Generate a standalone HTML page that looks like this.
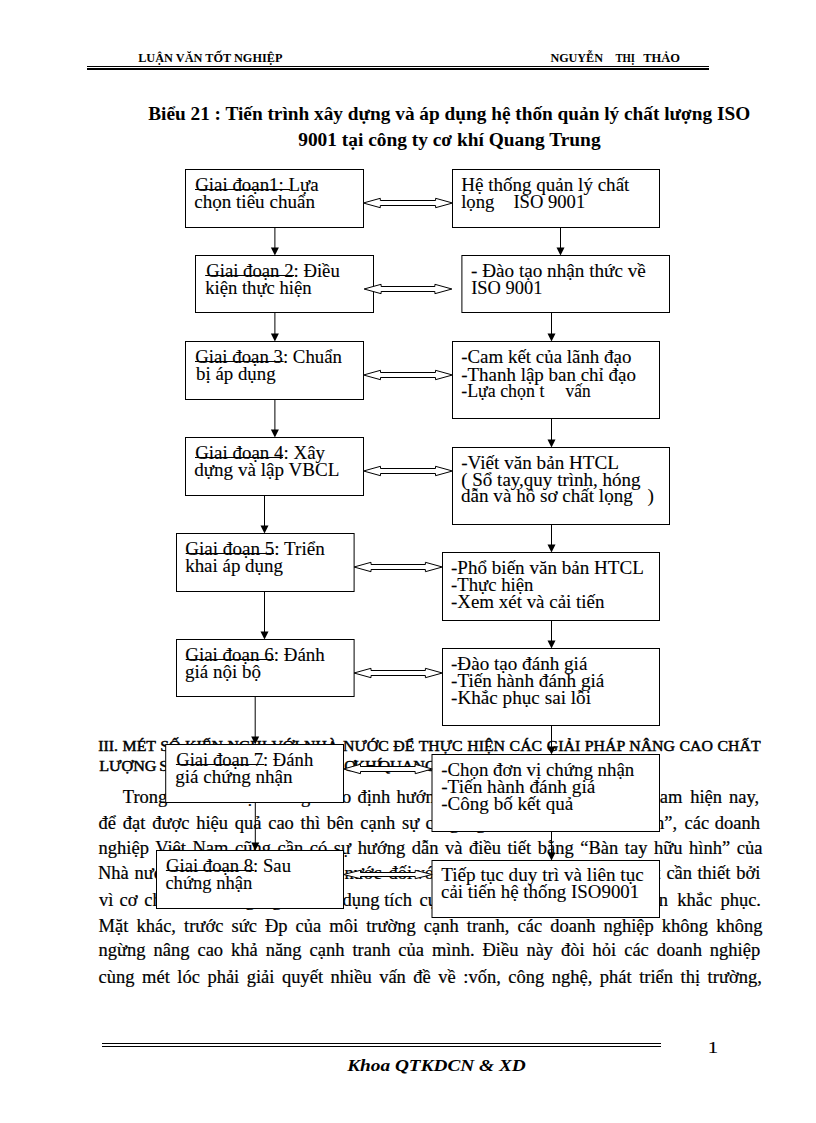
<!DOCTYPE html><html><head><meta charset="utf-8"><title>Biểu 21</title><style>html,body{margin:0;padding:0;background:#fff;width:816px;height:1123px;overflow:hidden}svg{display:block}text{font-family:"Liberation Serif",serif;fill:#000}</style></head><body>
<svg width="816" height="1123" viewBox="0 0 816 1123">
<rect x="0" y="0" width="816" height="1123" fill="#fff"/>
<rect x="87" y="66" width="622" height="1" fill="#000"/>
<rect x="87" y="68" width="622" height="2" fill="#000"/>
<text x="138.20" y="62.10" font-size="13" font-weight="bold" textLength="144.20" lengthAdjust="spacingAndGlyphs">LUẬN VĂN TỐT NGHIỆP</text>
<text x="550.40" y="62.10" font-size="13" font-weight="bold" textLength="52.60" lengthAdjust="spacingAndGlyphs">NGUYỄN</text>
<text x="615.40" y="62.10" font-size="13" font-weight="bold" textLength="19.60" lengthAdjust="spacingAndGlyphs">THỊ</text>
<text x="643.20" y="62.10" font-size="13" font-weight="bold" textLength="36.80" lengthAdjust="spacingAndGlyphs">THẢO</text>
<text x="148.20" y="120.30" font-size="18.67" font-weight="bold" textLength="602.00" lengthAdjust="spacingAndGlyphs">Biểu 21 : Tiến trình xây dựng và áp dụng hệ thốn quản lý chất lượng ISO</text>
<text x="298.20" y="146.20" font-size="18.67" font-weight="bold" textLength="302.40" lengthAdjust="spacingAndGlyphs">9001 tại công ty cơ khí Quang Trung</text>
<text transform="translate(98.20,751.30) scale(1.0800,1)" x="0" y="0" font-size="14.67" stroke="#000" stroke-width="0.45" word-spacing="0.597">III. MÉT SỐ KIẾN NGHỊ VỚI NHÀ NƯỚC ĐỂ THỰC HIỆN CÁC GIẢI PHÁP NÂNG CAO CHẤT</text>
<text transform="translate(99.20,771.20) scale(1.1000,1)" x="0" y="0" font-size="14.67" stroke="#000" stroke-width="0.45">LƯỢNG</text>
<text transform="translate(159.20,771.20) scale(1.1000,1)" x="0" y="0" font-size="14.67" stroke="#000" stroke-width="0.45">SẢN</text>
<text transform="translate(189.40,771.20) scale(1.1000,1)" x="0" y="0" font-size="14.67" stroke="#000" stroke-width="0.45">PHẨM</text>
<text transform="translate(240.40,771.20) scale(1.1000,1)" x="0" y="0" font-size="14.67" stroke="#000" stroke-width="0.45">TẠI</text>
<text transform="translate(271.40,771.20) scale(1.1000,1)" x="0" y="0" font-size="14.67" stroke="#000" stroke-width="0.45">CÔNG</text>
<text transform="translate(310.40,771.20) scale(1.1000,1)" x="0" y="0" font-size="14.67" stroke="#000" stroke-width="0.45">TY</text>
<text transform="translate(333.40,771.20) scale(1.1000,1)" x="0" y="0" font-size="14.67" stroke="#000" stroke-width="0.45">CƠ</text>
<text transform="translate(353.40,771.20) scale(1.1000,1)" x="0" y="0" font-size="14.67" stroke="#000" stroke-width="0.45">KHÍ</text>
<text transform="translate(378.40,771.20) scale(1.1000,1)" x="0" y="0" font-size="14.67" stroke="#000" stroke-width="0.45">QUANG</text>
<text transform="translate(440.40,771.20) scale(1.1000,1)" x="0" y="0" font-size="14.67" stroke="#000" stroke-width="0.45">TRUNG</text>
<text transform="translate(122.80,803.20) scale(1.0400,1)" x="0" y="0" font-size="17.8" stroke="#000" stroke-width="0.2">Trong</text>
<text transform="translate(175.40,803.20) scale(1.0400,1)" x="0" y="0" font-size="17.8" stroke="#000" stroke-width="0.2">nền</text>
<text transform="translate(199.40,803.20) scale(1.0400,1)" x="0" y="0" font-size="17.8" stroke="#000" stroke-width="0.2">kinh</text>
<text transform="translate(246.00,803.20) scale(1.0400,1)" x="0" y="0" font-size="17.8" stroke="#000" stroke-width="0.2">ạ</text>
<text transform="translate(301.00,803.20) scale(1.0400,1)" x="0" y="0" font-size="17.8" stroke="#000" stroke-width="0.2">g</text>
<text transform="translate(319.40,803.20) scale(1.0400,1)" x="0" y="0" font-size="17.8" stroke="#000" stroke-width="0.2">theo</text>
<text transform="translate(357.40,803.20) scale(1.0400,1)" x="0" y="0" font-size="17.8" stroke="#000" stroke-width="0.2">định</text>
<text transform="translate(396.40,803.20) scale(1.0400,1)" x="0" y="0" font-size="17.8" stroke="#000" stroke-width="0.2">hướng</text>
<text transform="translate(444.40,803.20) scale(1.0400,1)" x="0" y="0" font-size="17.8" stroke="#000" stroke-width="0.2">xã</text>
<text transform="translate(469.40,803.20) scale(1.0400,1)" x="0" y="0" font-size="17.8" stroke="#000" stroke-width="0.2">hội</text>
<text transform="translate(499.40,803.20) scale(1.0400,1)" x="0" y="0" font-size="17.8" stroke="#000" stroke-width="0.2">chủ</text>
<text transform="translate(529.40,803.20) scale(1.0400,1)" x="0" y="0" font-size="17.8" stroke="#000" stroke-width="0.2">nghĩa</text>
<text transform="translate(579.40,803.20) scale(1.0400,1)" x="0" y="0" font-size="17.8" stroke="#000" stroke-width="0.2">ở</text>
<text transform="translate(599.40,803.20) scale(1.0400,1)" x="0" y="0" font-size="17.8" stroke="#000" stroke-width="0.2">Việt</text>
<text transform="translate(646.40,803.20) scale(1.0400,1)" x="0" y="0" font-size="17.8" stroke="#000" stroke-width="0.2">Nam</text>
<text transform="translate(690.20,803.20) scale(1.0400,1)" x="0" y="0" font-size="17.8" stroke="#000" stroke-width="0.2">hiện</text>
<text transform="translate(729.00,803.20) scale(1.0400,1)" x="0" y="0" font-size="17.8" stroke="#000" stroke-width="0.2">nay,</text>
<text transform="translate(98.60,828.60) scale(1.0400,1)" x="0" y="0" font-size="17.8" stroke="#000" stroke-width="0.2" word-spacing="2.044">để đạt được hiệu quả cao thì bên cạnh sự</text>
<text transform="translate(425.60,828.60) scale(1.0400,1)" x="0" y="0" font-size="17.8" stroke="#000" stroke-width="0.2">cố</text>
<text transform="translate(449.40,828.60) scale(1.0400,1)" x="0" y="0" font-size="17.8" stroke="#000" stroke-width="0.2">gắng</text>
<text transform="translate(499.40,828.60) scale(1.0400,1)" x="0" y="0" font-size="17.8" stroke="#000" stroke-width="0.2">của</text>
<text transform="translate(539.40,828.60) scale(1.0400,1)" x="0" y="0" font-size="17.8" stroke="#000" stroke-width="0.2">bản</text>
<text transform="translate(579.40,828.60) scale(1.0400,1)" x="0" y="0" font-size="17.8" stroke="#000" stroke-width="0.2">thân</text>
<text transform="translate(609.40,828.60) scale(1.0400,1)" x="0" y="0" font-size="17.8" stroke="#000" stroke-width="0.2">“Bàn</text>
<text transform="translate(631.40,828.60) scale(1.0400,1)" x="0" y="0" font-size="17.8" stroke="#000" stroke-width="0.2">hình”,</text>
<text transform="translate(684.60,828.60) scale(1.0400,1)" x="0" y="0" font-size="17.8" stroke="#000" stroke-width="0.2">các</text>
<text transform="translate(714.80,828.60) scale(1.0400,1)" x="0" y="0" font-size="17.8" stroke="#000" stroke-width="0.2">doanh</text>
<text transform="translate(98.60,853.60) scale(1.0400,1)" x="0" y="0" font-size="17.8" stroke="#000" stroke-width="0.2" word-spacing="1.883">nghiệp Việt Nam cũng cần có sự hướng dẫn và điều tiết bằng “Bàn tay hữu hình” của</text>
<text transform="translate(98.00,879.30) scale(1.0400,1)" x="0" y="0" font-size="17.8" stroke="#000" stroke-width="0.2">Nhà</text>
<text transform="translate(134.60,879.30) scale(1.0400,1)" x="0" y="0" font-size="17.8" stroke="#000" stroke-width="0.2">nước.</text>
<text transform="translate(178.40,879.30) scale(1.0400,1)" x="0" y="0" font-size="17.8" stroke="#000" stroke-width="0.2">Sự</text>
<text transform="translate(209.40,879.30) scale(1.0400,1)" x="0" y="0" font-size="17.8" stroke="#000" stroke-width="0.2">can</text>
<text transform="translate(239.40,879.30) scale(1.0400,1)" x="0" y="0" font-size="17.8" stroke="#000" stroke-width="0.2">thiệp</text>
<text transform="translate(289.40,879.30) scale(1.0400,1)" x="0" y="0" font-size="17.8" stroke="#000" stroke-width="0.2">của</text>
<text transform="translate(344.40,879.30) scale(1.0400,1)" x="0" y="0" font-size="17.8" stroke="#000" stroke-width="0.2">nước</text>
<text transform="translate(388.40,879.30) scale(1.0400,1)" x="0" y="0" font-size="17.8" stroke="#000" stroke-width="0.2">đối</text>
<text transform="translate(415.40,879.30) scale(1.0400,1)" x="0" y="0" font-size="17.8" stroke="#000" stroke-width="0.2">với</text>
<text transform="translate(449.40,879.30) scale(1.0400,1)" x="0" y="0" font-size="17.8" stroke="#000" stroke-width="0.2">các</text>
<text transform="translate(489.40,879.30) scale(1.0400,1)" x="0" y="0" font-size="17.8" stroke="#000" stroke-width="0.2">doanh</text>
<text transform="translate(549.40,879.30) scale(1.0400,1)" x="0" y="0" font-size="17.8" stroke="#000" stroke-width="0.2">nghiệp</text>
<text transform="translate(609.40,879.30) scale(1.0400,1)" x="0" y="0" font-size="17.8" stroke="#000" stroke-width="0.2">là</text>
<text transform="translate(640.80,879.30) scale(1.0400,1)" x="0" y="0" font-size="17.8" stroke="#000" stroke-width="0.2">rất</text>
<text transform="translate(666.40,879.30) scale(1.0400,1)" x="0" y="0" font-size="17.8" stroke="#000" stroke-width="0.2">cần</text>
<text transform="translate(697.40,879.30) scale(1.0400,1)" x="0" y="0" font-size="17.8" stroke="#000" stroke-width="0.2">thiết</text>
<text transform="translate(736.20,879.30) scale(1.0400,1)" x="0" y="0" font-size="17.8" stroke="#000" stroke-width="0.2">bởi</text>
<text transform="translate(99.00,905.80) scale(1.0400,1)" x="0" y="0" font-size="17.8" stroke="#000" stroke-width="0.2">vì</text>
<text transform="translate(119.60,905.80) scale(1.0400,1)" x="0" y="0" font-size="17.8" stroke="#000" stroke-width="0.2">cơ</text>
<text transform="translate(144.20,905.80) scale(1.0400,1)" x="0" y="0" font-size="17.8" stroke="#000" stroke-width="0.2">chế</text>
<text transform="translate(169.40,905.80) scale(1.0400,1)" x="0" y="0" font-size="17.8" stroke="#000" stroke-width="0.2">thị</text>
<text transform="translate(204.80,905.80) scale(1.0400,1)" x="0" y="0" font-size="17.8" stroke="#000" stroke-width="0.2">trường</text>
<text transform="translate(272.00,905.80) scale(1.0400,1)" x="0" y="0" font-size="17.8" stroke="#000" stroke-width="0.2">g</text>
<text transform="translate(342.60,905.80) scale(1.0400,1)" x="0" y="0" font-size="17.8" stroke="#000" stroke-width="0.2">dụng</text>
<text transform="translate(384.20,905.80) scale(1.0400,1)" x="0" y="0" font-size="17.8" stroke="#000" stroke-width="0.2">tích</text>
<text transform="translate(419.60,905.80) scale(1.0400,1)" x="0" y="0" font-size="17.8" stroke="#000" stroke-width="0.2">cực</text>
<text transform="translate(459.40,905.80) scale(1.0400,1)" x="0" y="0" font-size="17.8" stroke="#000" stroke-width="0.2">còn</text>
<text transform="translate(499.40,905.80) scale(1.0400,1)" x="0" y="0" font-size="17.8" stroke="#000" stroke-width="0.2">có</text>
<text transform="translate(539.40,905.80) scale(1.0400,1)" x="0" y="0" font-size="17.8" stroke="#000" stroke-width="0.2">những</text>
<text transform="translate(589.40,905.80) scale(1.0400,1)" x="0" y="0" font-size="17.8" stroke="#000" stroke-width="0.2">khuyết</text>
<text transform="translate(619.40,905.80) scale(1.0400,1)" x="0" y="0" font-size="17.8" stroke="#000" stroke-width="0.2">tật</text>
<text transform="translate(642.40,905.80) scale(1.0400,1)" x="0" y="0" font-size="17.8" stroke="#000" stroke-width="0.2">cần</text>
<text transform="translate(677.20,905.80) scale(1.0400,1)" x="0" y="0" font-size="17.8" stroke="#000" stroke-width="0.2">khắc</text>
<text transform="translate(720.40,905.80) scale(1.0400,1)" x="0" y="0" font-size="17.8" stroke="#000" stroke-width="0.2">phục.</text>
<text transform="translate(98.60,931.50) scale(1.0400,1)" x="0" y="0" font-size="17.8" stroke="#000" stroke-width="0.2" word-spacing="3.314">Mặt khác, trước sức Đp của môi trường cạnh tranh, các doanh nghiệp không không</text>
<text transform="translate(98.60,956.40) scale(1.0400,1)" x="0" y="0" font-size="17.8" stroke="#000" stroke-width="0.2" word-spacing="3.187">ngừng nâng cao khả năng cạnh tranh của mình. Điều này đòi hỏi các doanh nghiệp</text>
<text transform="translate(98.60,982.90) scale(1.0400,1)" x="0" y="0" font-size="17.8" stroke="#000" stroke-width="0.2" word-spacing="2.773">cùng mét lóc phải giải quyết nhiều vấn đề về :vốn, công nghệ, phát triển thị trường,</text>
<text x="707.40" y="1053.20" font-size="17.33" stroke="#000" stroke-width="0.05" textLength="10.80" lengthAdjust="spacingAndGlyphs">1</text>
<text x="347.20" y="1071.00" font-size="17.33" font-weight="bold" font-style="italic" textLength="178.60" lengthAdjust="spacingAndGlyphs">Khoa QTKDCN &amp; XD</text>
<line x1="274.9" y1="227.5" x2="274.9" y2="248.5" stroke="#000" stroke-width="1"/>
<path d="M270.9,247.5 L278.9,247.5 L274.9,255.5 Z" fill="#000"/>
<line x1="274.9" y1="312.5" x2="274.9" y2="334.5" stroke="#000" stroke-width="1"/>
<path d="M270.9,333.5 L278.9,333.5 L274.9,341.5 Z" fill="#000"/>
<line x1="274.9" y1="399.5" x2="274.9" y2="430.5" stroke="#000" stroke-width="1"/>
<path d="M270.9,429.5 L278.9,429.5 L274.9,437.5 Z" fill="#000"/>
<line x1="264.5" y1="495.5" x2="264.5" y2="526.5" stroke="#000" stroke-width="1"/>
<path d="M260.5,525.5 L268.5,525.5 L264.5,533.5 Z" fill="#000"/>
<line x1="264.5" y1="591.5" x2="264.5" y2="632.5" stroke="#000" stroke-width="1"/>
<path d="M260.5,631.5 L268.5,631.5 L264.5,639.5 Z" fill="#000"/>
<line x1="255.2" y1="696.5" x2="255.2" y2="737.5" stroke="#000" stroke-width="1"/>
<path d="M251.2,736.5 L259.2,736.5 L255.2,744.5 Z" fill="#000"/>
<line x1="255.3" y1="802.5" x2="255.3" y2="843.5" stroke="#000" stroke-width="1"/>
<path d="M251.3,842.5 L259.3,842.5 L255.3,850.5 Z" fill="#000"/>
<line x1="560.5" y1="227.5" x2="560.5" y2="248.5" stroke="#000" stroke-width="1"/>
<path d="M556.5,247.5 L564.5,247.5 L560.5,255.5 Z" fill="#000"/>
<line x1="551.5" y1="312.5" x2="551.5" y2="334.5" stroke="#000" stroke-width="1"/>
<path d="M547.5,333.5 L555.5,333.5 L551.5,341.5 Z" fill="#000"/>
<line x1="551.5" y1="418.5" x2="551.5" y2="440.5" stroke="#000" stroke-width="1"/>
<path d="M547.5,439.5 L555.5,439.5 L551.5,447.5 Z" fill="#000"/>
<line x1="551.5" y1="524.5" x2="551.5" y2="545.5" stroke="#000" stroke-width="1"/>
<path d="M547.5,544.5 L555.5,544.5 L551.5,552.5 Z" fill="#000"/>
<line x1="551.5" y1="620.5" x2="551.5" y2="641.5" stroke="#000" stroke-width="1"/>
<path d="M547.5,640.5 L555.5,640.5 L551.5,648.5 Z" fill="#000"/>
<line x1="551.5" y1="725.5" x2="551.5" y2="747.5" stroke="#000" stroke-width="1"/>
<path d="M547.5,746.5 L555.5,746.5 L551.5,754.5 Z" fill="#000"/>
<line x1="551.5" y1="831.5" x2="551.5" y2="853.5" stroke="#000" stroke-width="1"/>
<path d="M547.5,852.5 L555.5,852.5 L551.5,860.5 Z" fill="#000"/>
<rect x="185.5" y="169.5" width="178.0" height="58.0" fill="#fff" stroke="#000" stroke-width="1"/>
<rect x="452.5" y="169.5" width="207.0" height="58.0" fill="#fff" stroke="#000" stroke-width="1"/>
<rect x="195.5" y="255.5" width="178.0" height="57.0" fill="#fff" stroke="#000" stroke-width="1"/>
<rect x="461.9" y="255.5" width="207.6" height="57.0" fill="#fff" stroke="#000" stroke-width="1"/>
<rect x="185.5" y="341.5" width="178.0" height="58.0" fill="#fff" stroke="#000" stroke-width="1"/>
<rect x="452.5" y="341.5" width="207.0" height="77.0" fill="#fff" stroke="#000" stroke-width="1"/>
<rect x="185.5" y="437.5" width="178.0" height="58.0" fill="#fff" stroke="#000" stroke-width="1"/>
<rect x="452.5" y="447.5" width="217.0" height="77.0" fill="#fff" stroke="#000" stroke-width="1"/>
<rect x="176.5" y="533.5" width="177.6" height="58.0" fill="#fff" stroke="#000" stroke-width="1"/>
<rect x="442.5" y="552.5" width="217.0" height="68.0" fill="#fff" stroke="#000" stroke-width="1"/>
<rect x="176.5" y="639.5" width="177.6" height="57.0" fill="#fff" stroke="#000" stroke-width="1"/>
<rect x="442.5" y="648.5" width="217.0" height="77.0" fill="#fff" stroke="#000" stroke-width="1"/>
<rect x="165.7" y="744.5" width="177.8" height="58.0" fill="#fff" stroke="#000" stroke-width="1"/>
<rect x="432.0" y="754.5" width="227.5" height="77.0" fill="#fff" stroke="#000" stroke-width="1"/>
<rect x="156.5" y="850.5" width="187.0" height="58.0" fill="#fff" stroke="#000" stroke-width="1"/>
<rect x="432.0" y="860.5" width="227.5" height="57.0" fill="#fff" stroke="#000" stroke-width="1"/>
<path d="M363.3,203.0 L380.3,198.3 L380.3,200.5 L435.6,200.5 L435.6,198.3 L452.6,203.0 L435.6,207.7 L435.6,205.5 L380.3,205.5 L380.3,207.7 Z" fill="#fff" stroke="#000" stroke-width="1"/>
<path d="M364.1,289.0 L381.1,284.3 L381.1,286.5 L434.9,286.5 L434.9,284.3 L451.9,289.0 L434.9,293.7 L434.9,291.5 L381.1,291.5 L381.1,293.7 Z" fill="#fff" stroke="#000" stroke-width="1"/>
<path d="M363.5,375.0 L380.5,370.3 L380.5,372.5 L435.5,372.5 L435.5,370.3 L452.5,375.0 L435.5,379.7 L435.5,377.5 L380.5,377.5 L380.5,379.7 Z" fill="#fff" stroke="#000" stroke-width="1"/>
<path d="M363.5,471.0 L380.5,466.3 L380.5,468.5 L435.5,468.5 L435.5,466.3 L452.5,471.0 L435.5,475.7 L435.5,473.5 L380.5,473.5 L380.5,475.7 Z" fill="#fff" stroke="#000" stroke-width="1"/>
<path d="M354,567.0 L371,562.3 L371,564.5 L425.4,564.5 L425.4,562.3 L442.4,567.0 L425.4,571.7 L425.4,569.5 L371,569.5 L371,571.7 Z" fill="#fff" stroke="#000" stroke-width="1"/>
<path d="M354,673.0 L371,668.3 L371,670.5 L425.4,670.5 L425.4,668.3 L442.4,673.0 L425.4,677.7 L425.4,675.5 L371,675.5 L371,677.7 Z" fill="#fff" stroke="#000" stroke-width="1"/>
<path d="M343.5,769.0 L360.5,764.3 L360.5,766.5 L415.2,766.5 L415.2,764.3 L432.2,769.0 L415.2,773.7 L415.2,771.5 L360.5,771.5 L360.5,773.7 Z" fill="#fff" stroke="#000" stroke-width="1"/>
<path d="M343.5,874.5 L360.5,870.3 L360.5,872.5 L415.2,872.5 L415.2,870.3 L432.2,874.5 L415.2,878.7 L415.2,876.5 L360.5,876.5 L360.5,878.7 Z" fill="#fff" stroke="#000" stroke-width="1"/>
<text x="195.20" y="190.80" font-size="17.8" stroke="#000" stroke-width="0.1" textLength="123.40" lengthAdjust="spacingAndGlyphs">Giai đoạn1: Lựa</text>
<text x="194.20" y="207.90" font-size="17.8" stroke="#000" stroke-width="0.1" textLength="120.80" lengthAdjust="spacingAndGlyphs">chọn tiêu chuẩn</text>
<text x="461.20" y="191.30" font-size="17.8" stroke="#000" stroke-width="0.1" textLength="168.20" lengthAdjust="spacingAndGlyphs">Hệ thống quản lý chất</text>
<text x="461.20" y="207.90" font-size="17.8" stroke="#000" stroke-width="0.1" textLength="33.20" lengthAdjust="spacingAndGlyphs">lọng</text>
<text x="513.40" y="207.90" font-size="17.8" stroke="#000" stroke-width="0.1" textLength="71.80" lengthAdjust="spacingAndGlyphs">ISO 9001</text>
<text x="206.20" y="276.80" font-size="17.8" stroke="#000" stroke-width="0.1" textLength="133.60" lengthAdjust="spacingAndGlyphs">Giai đoạn 2: Điều</text>
<text x="205.20" y="293.90" font-size="17.8" stroke="#000" stroke-width="0.1" textLength="106.40" lengthAdjust="spacingAndGlyphs">kiện thực hiện</text>
<text x="471.00" y="277.00" font-size="17.8" stroke="#000" stroke-width="0.1" textLength="174.80" lengthAdjust="spacingAndGlyphs">- Đào tạo nhận thức về</text>
<text x="471.20" y="293.90" font-size="17.8" stroke="#000" stroke-width="0.1" textLength="71.20" lengthAdjust="spacingAndGlyphs">ISO 9001</text>
<text x="195.20" y="362.80" font-size="17.8" stroke="#000" stroke-width="0.1" textLength="146.80" lengthAdjust="spacingAndGlyphs">Giai đoạn 3: Chuẩn</text>
<text x="196.00" y="379.90" font-size="17.8" stroke="#000" stroke-width="0.1" textLength="79.60" lengthAdjust="spacingAndGlyphs">bị áp dụng</text>
<text x="461.20" y="363.40" font-size="17.8" stroke="#000" stroke-width="0.1" textLength="170.20" lengthAdjust="spacingAndGlyphs">-Cam kết của lãnh đạo</text>
<text x="461.20" y="380.50" font-size="17.8" stroke="#000" stroke-width="0.1" textLength="174.80" lengthAdjust="spacingAndGlyphs">-Thanh lập ban chỉ đạo</text>
<text x="461.20" y="397.30" font-size="17.8" stroke="#000" stroke-width="0.1" textLength="83.20" lengthAdjust="spacingAndGlyphs">-Lựa chọn t</text>
<text x="565.60" y="397.30" font-size="17.8" stroke="#000" stroke-width="0.1" textLength="25.00" lengthAdjust="spacingAndGlyphs">vấn</text>
<text x="195.20" y="458.80" font-size="17.8" stroke="#000" stroke-width="0.1" textLength="129.80" lengthAdjust="spacingAndGlyphs">Giai đoạn 4: Xây</text>
<text x="194.20" y="475.90" font-size="17.8" stroke="#000" stroke-width="0.1" textLength="145.20" lengthAdjust="spacingAndGlyphs">dựng và lập VBCL</text>
<text x="461.20" y="469.00" font-size="17.8" stroke="#000" stroke-width="0.1" textLength="157.80" lengthAdjust="spacingAndGlyphs">-Viết văn bản HTCL</text>
<text x="461.20" y="486.10" font-size="17.8" stroke="#000" stroke-width="0.1" textLength="179.40" lengthAdjust="spacingAndGlyphs">( Sổ tay,quy trình, hóng</text>
<text x="461.00" y="502.10" font-size="17.8" stroke="#000" stroke-width="0.1" textLength="171.80" lengthAdjust="spacingAndGlyphs">dẫn và hồ sơ chất lọng</text>
<text x="647.40" y="502.10" font-size="17.8" stroke="#000" stroke-width="0.1" textLength="6.40" lengthAdjust="spacingAndGlyphs">)</text>
<text x="185.20" y="554.80" font-size="17.8" stroke="#000" stroke-width="0.1" textLength="139.60" lengthAdjust="spacingAndGlyphs">Giai đoạn 5: Triển</text>
<text x="185.20" y="571.90" font-size="17.8" stroke="#000" stroke-width="0.1" textLength="97.80" lengthAdjust="spacingAndGlyphs">khai áp dụng</text>
<text x="451.00" y="574.20" font-size="17.8" stroke="#000" stroke-width="0.1" textLength="192.80" lengthAdjust="spacingAndGlyphs">-Phổ biến văn bản HTCL</text>
<text x="451.00" y="591.00" font-size="17.8" stroke="#000" stroke-width="0.1" textLength="82.40" lengthAdjust="spacingAndGlyphs">-Thực hiện</text>
<text x="451.00" y="608.40" font-size="17.8" stroke="#000" stroke-width="0.1" textLength="153.40" lengthAdjust="spacingAndGlyphs">-Xem xét và cải tiến</text>
<text x="185.20" y="660.80" font-size="17.8" stroke="#000" stroke-width="0.1" textLength="139.60" lengthAdjust="spacingAndGlyphs">Giai đoạn 6: Đánh</text>
<text x="185.00" y="677.90" font-size="17.8" stroke="#000" stroke-width="0.1" textLength="76.00" lengthAdjust="spacingAndGlyphs">giá nội bộ</text>
<text x="451.00" y="670.20" font-size="17.8" stroke="#000" stroke-width="0.1" textLength="136.40" lengthAdjust="spacingAndGlyphs">-Đào tạo đánh giá</text>
<text x="451.00" y="687.10" font-size="17.8" stroke="#000" stroke-width="0.1" textLength="153.40" lengthAdjust="spacingAndGlyphs">-Tiến hành đánh giá</text>
<text x="451.00" y="704.40" font-size="17.8" stroke="#000" stroke-width="0.1" textLength="140.00" lengthAdjust="spacingAndGlyphs">-Khắc phục sai lỗi</text>
<text x="176.20" y="765.80" font-size="17.8" stroke="#000" stroke-width="0.1" textLength="137.00" lengthAdjust="spacingAndGlyphs">Giai đoạn 7: Đánh</text>
<text x="175.20" y="783.00" font-size="17.8" stroke="#000" stroke-width="0.1" textLength="117.40" lengthAdjust="spacingAndGlyphs">giá chứng nhận</text>
<text x="441.20" y="776.20" font-size="17.8" stroke="#000" stroke-width="0.1" textLength="193.00" lengthAdjust="spacingAndGlyphs">-Chọn đơn vị chứng nhận</text>
<text x="441.20" y="793.10" font-size="17.8" stroke="#000" stroke-width="0.1" textLength="154.20" lengthAdjust="spacingAndGlyphs">-Tiến hành đánh giá</text>
<text x="441.20" y="810.40" font-size="17.8" stroke="#000" stroke-width="0.1" textLength="132.00" lengthAdjust="spacingAndGlyphs">-Công bố kết quả</text>
<text x="166.00" y="871.80" font-size="17.8" stroke="#000" stroke-width="0.1" textLength="125.00" lengthAdjust="spacingAndGlyphs">Giai đoạn 8: Sau</text>
<text x="165.40" y="888.90" font-size="17.8" stroke="#000" stroke-width="0.1" textLength="86.80" lengthAdjust="spacingAndGlyphs">chứng nhận</text>
<text x="441.20" y="881.00" font-size="17.8" stroke="#000" stroke-width="0.1" textLength="202.60" lengthAdjust="spacingAndGlyphs">Tiếp tục duy trì và liên tục</text>
<text x="441.00" y="898.20" font-size="17.8" stroke="#000" stroke-width="0.1" textLength="198.20" lengthAdjust="spacingAndGlyphs">cải tiến hệ thống ISO9001</text>
<rect x="195" y="189" width="95" height="1" fill="#000"/>
<rect x="205.2" y="275" width="88.80000000000001" height="1" fill="#000"/>
<rect x="195" y="361" width="88.69999999999999" height="1" fill="#000"/>
<rect x="195" y="457" width="88" height="1" fill="#000"/>
<rect x="185.7" y="553" width="88.30000000000001" height="1" fill="#000"/>
<rect x="185.7" y="659" width="88.30000000000001" height="1" fill="#000"/>
<rect x="175.9" y="764" width="88.1" height="1" fill="#000"/>
<rect x="165.9" y="870" width="88.1" height="1" fill="#000"/>
<rect x="102" y="1043" width="559" height="1" fill="#000"/>
<rect x="102" y="1046" width="559" height="1" fill="#000"/>
</svg></body></html>
